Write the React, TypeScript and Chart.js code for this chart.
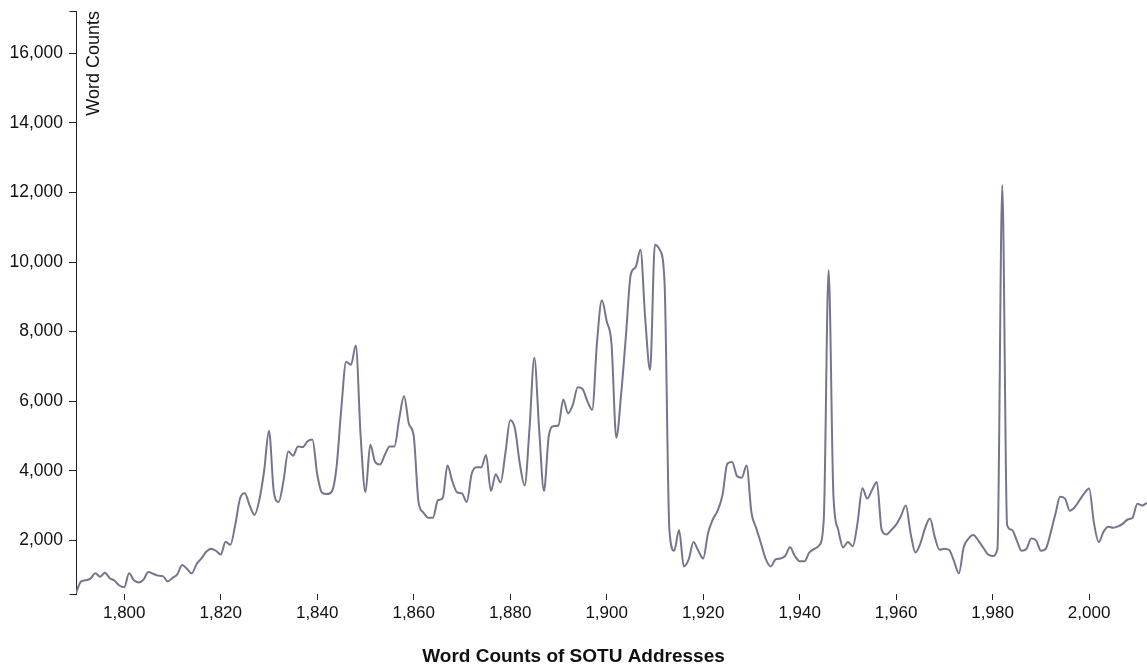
import { useEffect, useRef } from "react";
import { Chart, registerables } from "chart.js";

Chart.register(...registerables);

// ---- data ----
const START_YEAR = 1790;
const wordCounts: number[] = [
  // 1790s
  485, 810, 850, 900, 1050, 955, 1070, 910, 840, 700,
  // 1800s
  650, 1050, 850, 790, 870, 1090, 1040, 985, 970, 815,
  // 1810s
  920, 1020, 1290, 1180, 1050, 1320, 1480, 1670, 1760, 1700,
  // 1820s
  1590, 1960, 1870, 2440, 3200, 3350, 3000, 2730, 3160, 4000,
  // 1830s
  5150, 3400, 3100, 3700, 4550, 4430, 4700, 4680, 4850, 4900,
  // 1840s
  3900, 3370, 3330, 3400, 4100, 5800, 7130, 7050, 7600, 5000,
  // 1850s
  3380, 4750, 4250, 4180, 4450, 4700, 4700, 5500, 6150, 5350,
  // 1860s
  5000, 3100, 2800, 2650, 2650, 3150, 3210, 4150, 3700, 3380,
  // 1870s
  3350, 3100, 3900, 4100, 4100, 4450, 3420, 3900, 3660, 4500,
  // 1880s
  5450, 5200, 4200, 3580, 5200, 7250, 5200, 3420, 5000, 5280,
  // 1890s
  5300, 6050, 5650, 5900, 6400, 6350, 6000, 5750, 7700, 8900,
  // 1900s
  8300, 7650, 4950, 6200, 7900, 9650, 9850, 10350, 8350, 6900,
  // 1910s
  10500, 10350, 9400, 2300, 1700, 2300, 1250, 1450, 1950, 1700,
  // 1920s
  1480, 2200, 2600, 2850, 3300, 4200, 4250, 3850, 3800, 4150,
  // 1930s
  2800, 2350, 1900, 1450, 1250, 1450, 1480, 1550, 1800, 1550,
  // 1940s
  1400, 1400, 1650, 1750, 1850, 2600, 9770, 3300, 2300, 1800,
  // 1950s
  1950, 1830, 2500, 3500, 3200, 3450, 3680, 2300, 2170, 2300,
  // 1960s
  2450, 2700, 3000, 2200, 1650, 1900, 2350, 2630, 2100, 1730,
  // 1970s
  1760, 1720, 1400, 1050, 1800, 2050, 2150, 2000, 1800, 1600,
  // 1980s
  1550, 1750, 12212, 2440, 2300, 2000, 1700, 1750, 2050, 2000,
  // 1990s
  1700, 1750, 2200, 2750, 3250, 3200, 2850, 2950, 3150, 3350,
  // 2000s
  3490, 2500, 1950, 2250, 2390, 2360, 2400, 2480, 2600, 2650,
  // 2010s
  3050, 3000, 3080,
];
const years: number[] = wordCounts.map((_, i) => START_YEAR + i);

const xTickValues: number[] = [1800, 1820, 1840, 1860, 1880, 1900, 1920, 1940, 1960, 1980, 2000];
const yTickValues: number[] = [2000, 4000, 6000, 8000, 10000, 12000, 14000, 16000];

const X_MIN = 1790;
const X_MAX = 2012;
const Y_MIN = 457;
const Y_MAX = 17216;

const TITLE = "Word Counts of SOTU Addresses";
const Y_TITLE = "Word Counts";

// ---- style ----
const FONT = '"Liberation Sans", Arial, Helvetica, sans-serif';
const TEXT_COLOR = "#111111";
const AXIS_COLOR = "#222222";
const LINE_COLOR = "#75758e";

const axisExtras = {
  id: "axisExtras",
  afterDraw(chart: any) {
    const { ctx, chartArea } = chart;
    const x0 = Math.round(chartArea.left) + 0.5;
    ctx.save();
    ctx.strokeStyle = AXIS_COLOR;
    ctx.lineWidth = 1;
    ctx.beginPath();
    [chartArea.top, chartArea.bottom].forEach((yy: number) => {
      const py = Math.round(yy) + 0.5;
      ctx.moveTo(x0 - 7, py);
      ctx.lineTo(x0, py);
    });
    ctx.stroke();
    ctx.translate(chartArea.left + 23, chartArea.top);
    ctx.rotate(-Math.PI / 2);
    ctx.font = `18px ${FONT}`;
    ctx.fillStyle = TEXT_COLOR;
    ctx.textAlign = "right";
    ctx.textBaseline = "alphabetic";
    ctx.fillText(Y_TITLE, 0, 0);
    ctx.restore();
  },
};

export default function App() {
  const canvasRef = useRef<HTMLCanvasElement | null>(null);

  useEffect(() => {
    const canvas = canvasRef.current;
    if (!canvas) return;
    const chart = new Chart(canvas, {
      type: "line",
      data: {
        datasets: [
          {
            label: Y_TITLE,
            data: years.map((yr, i) => ({ x: yr, y: wordCounts[i] })),
            borderColor: LINE_COLOR,
            borderWidth: 2,
            pointRadius: 0,
            pointHoverRadius: 0,
            fill: false,
            cubicInterpolationMode: "monotone",
          },
        ],
      },
      options: {
        responsive: false,
        animation: false,
        events: [],
        layout: { padding: { top: 11, left: 0, right: 0, bottom: 0 } },
        plugins: {
          legend: { display: false },
          tooltip: { enabled: false },
          title: {
            display: true,
            text: TITLE,
            position: "bottom",
            color: TEXT_COLOR,
            font: { family: FONT, size: 19, weight: "bold" },
            padding: { top: 0, bottom: 4 },
          },
        },
        scales: {
          x: {
            type: "linear",
            min: X_MIN,
            max: X_MAX,
            afterBuildTicks: (s: any) => {
              s.ticks = xTickValues.map((v) => ({ value: v }));
            },
            afterFit: (s: any) => {
              s.height = 51.2;
              s.paddingLeft = 0;
              s.paddingRight = 0;
            },
            border: { display: false },
            grid: {
              drawOnChartArea: false,
              drawTicks: true,
              tickLength: 6,
              color: AXIS_COLOR,
            },
            ticks: {
              autoSkip: false,
              maxRotation: 0,
              padding: 3,
              color: TEXT_COLOR,
              font: { family: FONT, size: 17 },
              callback: (v: any) => Number(v).toLocaleString("en-US"),
            },
          },
          y: {
            type: "linear",
            min: Y_MIN,
            max: Y_MAX,
            afterBuildTicks: (s: any) => {
              s.ticks = yTickValues.map((v) => ({ value: v }));
            },
            afterFit: (s: any) => {
              s.width = 76;
              s.paddingTop = 0;
              s.paddingBottom = 0;
            },
            border: { display: true, color: AXIS_COLOR, width: 1 },
            grid: {
              drawOnChartArea: false,
              drawTicks: true,
              tickLength: 7,
              color: AXIS_COLOR,
            },
            ticks: {
              autoSkip: false,
              padding: 6,
              color: TEXT_COLOR,
              font: { family: FONT, size: 17.5 },
              callback: (v: any) => Number(v).toLocaleString("en-US"),
            },
          },
        },
      },
      plugins: [axisExtras],
    });
    return () => chart.destroy();
  }, []);

  return (
    <div style={{ position: "fixed", left: 0, top: 0, width: 1147, height: 672, background: "#fff" }}>
      <canvas ref={canvasRef} width={1147} height={672} style={{ display: "block" }} />
    </div>
  );
}
